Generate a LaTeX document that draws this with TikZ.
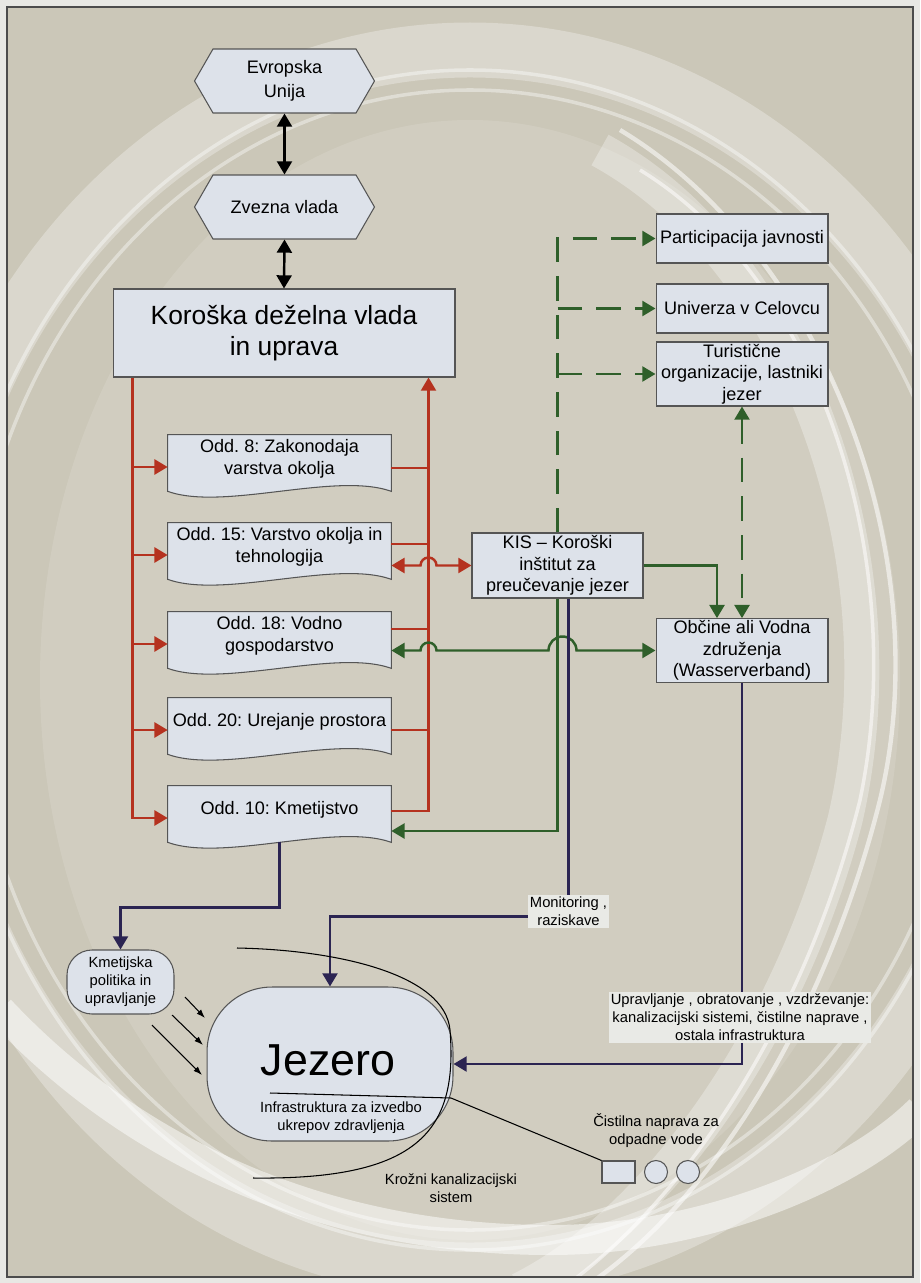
\documentclass[tikz,border=0pt]{standalone}
\usepackage{fontspec}
\setmainfont{Liberation Sans}
\usetikzlibrary{shapes.symbols,arrows.meta,calc}
\frenchspacing

\definecolor{cPaper}{HTML}{CBC7B8}
\definecolor{cMargin}{HTML}{E8E8E4}
\definecolor{cBox}{HTML}{DDE2EA}
\definecolor{cEdge}{HTML}{555555}
\definecolor{cRed}{HTML}{B5321F}
\definecolor{cGreen}{HTML}{2F5F2A}
\definecolor{cNavy}{HTML}{2B2452}
\definecolor{cNote}{HTML}{E9EAE6}

\newcommand{\txtbox}{\fontsize{10.3pt}{12.3pt}\selectfont}
\newcommand{\txthex}{\fontsize{10.3pt}{14pt}\selectfont}
\newcommand{\txtbig}{\fontsize{15pt}{18pt}\selectfont}
\newcommand{\txtlake}{\fontsize{25.5pt}{30pt}\selectfont}
\newcommand{\txtsmall}{\fontsize{8.4pt}{10.2pt}\selectfont}

\pgfdeclarelayer{paper}
\pgfdeclarelayer{shapes}
\pgfsetlayers{paper,shapes,main}

\begin{document}
\begin{tikzpicture}[x=0.02cm,y=-0.02cm,
  >={Triangle[length=7.5pt,width=8.5pt]},
  govbox/.style={draw=cEdge,fill=cBox,line width=0.6pt,align=center,inner sep=1pt},
  hexbox/.style={govbox,shape=signal,signal to=west and east,signal pointer angle=120,
    minimum width=3.6cm,minimum height=1.28cm,font=\txthex},
  deptbox/.style={align=center,minimum width=4.46cm,minimum height=0.96cm,inner sep=1pt,font=\txtbox},
  infobox/.style={govbox,minimum width=3.44cm,font=\txtbox},
  docline/.style={draw=cEdge,fill=cBox,line width=0.6pt},
  note/.style={fill=cNote,align=center,inner sep=1pt,font=\txtsmall},
  plain/.style={align=center,font=\txtsmall},
  heavy/.style={line width=1.4pt},
  blackarr/.style={heavy,draw=black},
  redarr/.style={heavy,draw=cRed},
  greenarr/.style={heavy,draw=cGreen},
  greendash/.style={heavy,draw=cGreen,dash pattern=on 14pt off 8pt},
  navyarr/.style={heavy,draw=cNavy},
  thinline/.style={line width=0.6pt,draw=black}]
\useasboundingbox (0,0) rectangle (920,1283);

% paper and swooshes
\begin{pgfonlayer}{paper}
\fill[cMargin] (0,0) rectangle (920,1283);
\fill[cPaper] (7,7) rectangle (913,1277);
\begin{scope}
\clip (7,7) rectangle (913,1277);
\fill[white,opacity=0.12] (470,680) ellipse[x radius=430, y radius=560];
\draw[white,opacity=0.3,line width=1.1cm] (470,660) ellipse[x radius=545, y radius=610];
\draw[white,opacity=0.4,line width=2pt] (470,660) ellipse[x radius=500, y radius=570];
\draw[white,opacity=0.4,line width=2pt] (470,660) ellipse[x radius=520, y radius=590];
\draw[white,opacity=0.55,line width=2.5pt] (620,130) .. controls (820,250) and (940,550) .. (880,800) .. controls (830,1000) and (720,1200) .. (580,1290);
\draw[white,opacity=0.55,line width=2pt] (640,170) .. controls (820,280) and (910,560) .. (860,800) .. controls (810,1000) and (700,1190) .. (560,1290);
\draw[white,opacity=0.3,line width=0.7cm] (600,150) .. controls (800,260) and (905,560) .. (845,820) .. controls (790,1030) and (660,1220) .. (520,1290);
\draw[white,opacity=0.5,line width=0.6cm] (0,1010) .. controls (150,1170) and (350,1240) .. (550,1240) .. controls (700,1240) and (850,1180) .. (920,1110);
\end{scope}
\draw[black!70,line width=0.8pt] (7,7) rectangle (913,1277);
\end{pgfonlayer}

% government levels
\node[hexbox] (eu) at (284.5,81) {Evropska\\Unija};
\node[hexbox] (zv) at (284.5,207) {Zvezna vlada};
\node[govbox,minimum width=6.84cm,minimum height=1.76cm,font=\txtbig] (kor) at (284,333) {Koroška deželna vlada\\in uprava};

% departments
\node[deptbox] (odd8) at (279.5,459) {Odd. 8: Zakonodaja\\varstva okolja};
\node[deptbox] (odd15) at (279.5,547) {Odd. 15: Varstvo okolja in\\tehnologija};
\node[deptbox] (odd18) at (279.5,636) {Odd. 18: Vodno\\gospodarstvo};
\node[deptbox] (odd20) at (279.5,722) {Odd. 20: Urejanje prostora};
\node[deptbox] (odd10) at (279.5,810) {Odd. 10: Kmetijstvo};
\begin{pgfonlayer}{shapes}
\foreach \d in {odd8,odd15,odd18,odd20,odd10}
  \draw[docline] (\d.north west) -- (\d.north east) -- ($(\d.south east)+(0,8)$)
    .. controls ($(\d.south east)+(-56,-12)$) and ($(\d.south west)+(56,28)$) .. ($(\d.south west)+(0,8)$) -- cycle;
\end{pgfonlayer}

% institutes and partners
\node[govbox,minimum width=3.42cm,minimum height=1.30cm,font=\txtbox] (kis) at (557.5,565.5) {KIS – Koroški\\inštitut za\\preučevanje jezer};
\node[infobox,minimum height=0.98cm] (part) at (742,238.5) {Participacija javnosti};
\node[infobox,minimum height=0.98cm] (uni) at (742,308.5) {Univerza v Celovcu};
\node[infobox,minimum height=1.28cm] (tur) at (742,374) {Turistične\\organizacije, lastniki\\jezer};
\node[infobox,minimum height=1.26cm] (obc) at (742,650.5) {Občine ali Vodna\\združenja\\(Wasserverband)};

% lake and surroundings
\node[govbox,rounded corners=0.5cm,minimum width=2.14cm,minimum height=1.28cm,font=\txtsmall] (kmet) at (120.5,982) {Kmetijska\\politika in\\upravljanje};
\node[govbox,rounded corners=1.3cm,minimum width=4.92cm,minimum height=3.08cm] (jez) at (330,1064) {};
\node[font=\txtlake] (jezname) at (328,1060) {Jezero};
\node[plain] (jezsub) at (341,1118) {Infrastruktura za izvedbo\\ukrepov zdravljenja};
\node[note] (mon) at (568.5,911.5) {Monitoring ,\\raziskave};
\node[note] (upr) at (740,1017.5) {Upravljanje , obratovanje , vzdrževanje:\\kanalizacijski sistemi, čistilne naprave ,\\ostala infrastruktura};
\node[plain] (ring) at (451,1188) {Krožni kanalizacijski\\sistem};
\node[plain] (plant) at (656,1131) {Čistilna naprava za\\odpadne vode};
\node[draw=cEdge,fill=cBox,line width=0.6pt,minimum width=0.66cm,minimum height=0.44cm,inner sep=0] (tank) at (618.5,1172) {};
\node[draw=cEdge,fill=cBox,line width=0.6pt,circle,minimum size=0.46cm,inner sep=0] (pond1) at (656,1172) {};
\node[draw=cEdge,fill=cBox,line width=0.6pt,circle,minimum size=0.46cm,inner sep=0] (pond2) at (688,1172) {};

% black links
\draw[blackarr,<->] (eu.south) -- (zv.north);
\draw[blackarr,<->] (zv.south) -- (kor.north);

% red links
\coordinate (ltrunk) at ($(kor.south west)+(20,0)$);
\coordinate (rtrunk) at ($(kor.south east)+(-27,0)$);
\draw[redarr,->] (ltrunk) |- ($(odd10.west)+(0,8)$);
\foreach \d in {odd8,odd15,odd18,odd20}
  \draw[redarr,->] ($(\d.west -| ltrunk)+(0,8)$) -- ($(\d.west)+(0,8)$);
\draw[redarr,->] ($(odd10.east)+(0,1)$) -| (rtrunk);
\draw[redarr] ($(odd8.east)+(0,9)$) -- ($(odd8.east -| rtrunk)+(0,9)$);
\draw[redarr] ($(odd15.east)+(0,-3)$) -- ($(odd15.east -| rtrunk)+(0,-3)$);
\draw[redarr] ($(odd18.east)+(0,-7)$) -- ($(odd18.east -| rtrunk)+(0,-7)$);
\draw[redarr] ($(odd20.east)+(0,8)$) -- ($(odd20.east -| rtrunk)+(0,8)$);
\draw[redarr,<->] (odd15.east |- kis.west) -- ($(kis.west -| rtrunk)+(-8,0)$)
  arc[start angle=180,end angle=360,radius=8] -- (kis.west);

% green links
\draw[greenarr,->] (kis.east) -| ($(obc.north)+(-25,0)$);
\draw[greenarr,<->] (odd18.east |- obc.west) -- ($(obc.west -| rtrunk)+(-8,0)$)
  arc[start angle=180,end angle=360,radius=8] -- ($(obc.west -| kis.south)+(-9,0)$)
  arc[start angle=180,end angle=360,radius=14] -- (obc.west);
\draw[greenarr,->] (kis.south) |- ($(odd10.east)+(0,21)$);
\draw[greendash,->] (kis.north) |- (part.west);
\draw[greendash,->] (uni.west -| kis.north) -- (uni.west);
\draw[greendash,->] (tur.west -| kis.north) -- (tur.west);
\draw[greendash,<->] (tur.south) -- (obc.north);

% navy links
\coordinate (monsrc) at ($(kis.south)+(11,0)$);
\draw[navyarr] (monsrc) -- (mon.north);
\draw[navyarr,->] ($(mon.west)+(0,5)$) -| (jez.north);
\draw[navyarr,->] ($(odd10.south)+(0,8)$) -- ++(0,65) -| (kmet.north);
\draw[navyarr] (obc.south) -- (obc.south |- upr.north);
\draw[navyarr,->] (obc.south |- upr.south) |- (jez.east);

% influences on the lake
\coordinate (src1) at (185,997);  \coordinate (tip1) at (205,1018);
\coordinate (src2) at (172,1015); \coordinate (tip2) at (203,1045);
\coordinate (src3) at (152,1025); \coordinate (tip3) at (202,1075);
\draw[thinline,-{Latex[length=5pt,width=3.5pt]}] (src1) -- (tip1);
\draw[thinline,-{Latex[length=5pt,width=3.5pt]}] (src2) -- (tip2);
\draw[thinline,-{Latex[length=5pt,width=3.5pt]}] (src3) -- (tip3);

% sewer ring and pipe to the plant
\coordinate (pipeA) at (270,1093);
\coordinate (pipeB) at (451,1098);
\draw[thinline] (pipeA) -- (pipeB) -- (tank.north west);
\coordinate (ringA) at (237,948);
\coordinate (ringB) at (450,1030);
\coordinate (ringC) at (253,1178);
\draw[thinline] (ringA) .. controls (340,950) and (445,975) .. (ringB)
  .. controls (458,1130) and (420,1180) .. (ringC);
\end{tikzpicture}
\end{document}
